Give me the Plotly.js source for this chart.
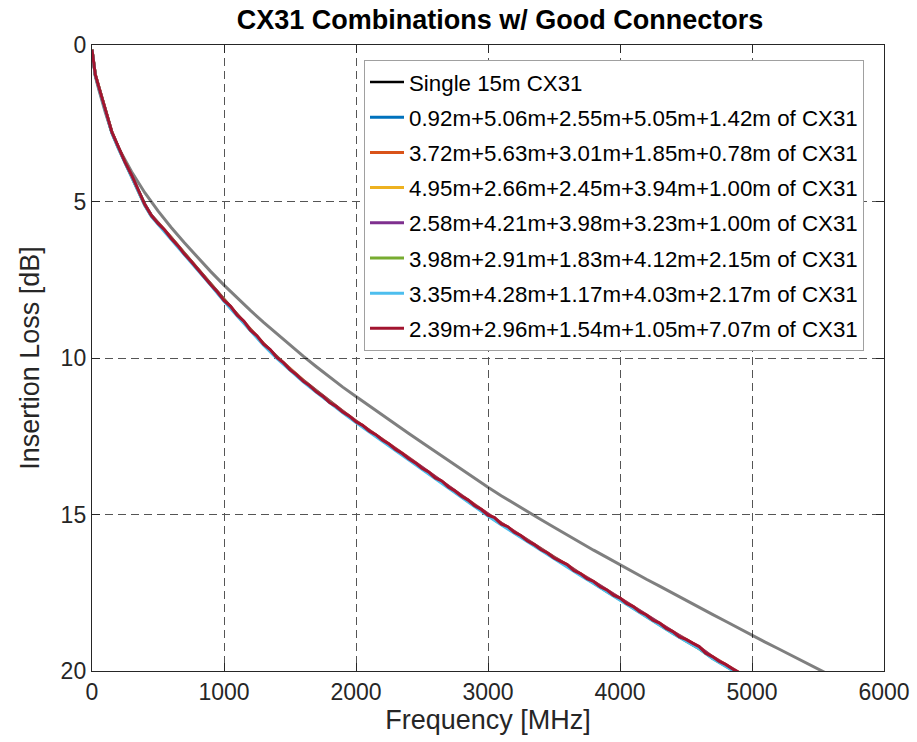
<!DOCTYPE html>
<html>
<head>
<meta charset="utf-8">
<script src="https://cdn.plot.ly/plotly-3.0.1.min.js"></script>
<style>
  html, body { margin: 0; padding: 0; background: #fff; }
  #chart { width: 917px; height: 742px; }
</style>
</head>
<body>
<div id="chart"></div>
<script>
// Insertion loss of a single 15 m CX31 cable vs. five-piece connectorised combinations.

// Frequency grid (MHz) for the single reference cable
const freqSingle = [0, 10, 25, 50, 100, 150, 200, 300, 400, 500, 600, 700, 800, 900,
  1000, 1100, 1200, 1300, 1400, 1500, 1600, 1700, 1800, 1900,
  2000, 2100, 2200, 2300, 2400, 2500, 2600, 2700, 2800, 2900,
  3000, 3100, 3200, 3300, 3400, 3500, 3600, 3700, 3800, 3900,
  4000, 4100, 4200, 4300, 4400, 4500, 4600, 4700, 4800, 4900,
  5000, 5100, 5200, 5300, 5400, 5500, 5600];

// Insertion loss (dB) of the single 15 m CX31
const lossSingle = [0.15, 0.58, 1.00, 1.40, 2.14, 2.79, 3.28, 4.05, 4.72, 5.30, 5.83, 6.32, 6.79, 7.24,
  7.67, 8.08, 8.48, 8.86, 9.23, 9.59, 9.94, 10.28, 10.61, 10.93,
  11.23, 11.53, 11.83, 12.12, 12.41, 12.70, 12.99, 13.28, 13.56, 13.85,
  14.13, 14.40, 14.66, 14.91, 15.16, 15.41, 15.66, 15.90, 16.14, 16.37,
  16.61, 16.84, 17.07, 17.29, 17.52, 17.74, 17.97, 18.19, 18.41, 18.64,
  18.86, 19.08, 19.29, 19.51, 19.72, 19.94, 20.15];

// Frequency grid (MHz) for the combinations
const freqCombo = [0, 10, 25, 50, 100, 150, 200, 250, 300, 350, 400, 450, 500,
  600, 700, 800, 900, 1000, 1100, 1200, 1300, 1400, 1500,
  1600, 1700, 1800, 1900, 2000, 2100, 2200, 2300, 2400, 2500,
  2600, 2700, 2800, 2900, 3000, 3100, 3200, 3300, 3400, 3500,
  3600, 3700, 3800, 3900, 4000, 4100, 4200, 4300, 4400, 4500,
  4600, 4700, 4800, 4900];

const lossCombo1 = [0.15, 0.56, 0.96, 1.33, 2.06, 2.79, 3.27, 3.75, 4.17, 4.63, 5.09, 5.44, 5.69,
  6.17, 6.67, 7.16, 7.65, 8.16, 8.63, 9.11, 9.56, 9.98, 10.37,
  10.73, 11.07, 11.41, 11.72, 12.03, 12.33, 12.62, 12.92, 13.22, 13.52,
  13.83, 14.12, 14.42, 14.72, 15.02, 15.30, 15.57, 15.85, 16.12, 16.39,
  16.65, 16.92, 17.18, 17.45, 17.71, 17.98, 18.25, 18.51, 18.78, 19.03,
  19.28, 19.58, 19.83, 20.08];

const lossCombo2 = [0.15, 0.54, 0.94, 1.31, 2.04, 2.77, 3.27, 3.73, 4.15, 4.61, 5.11, 5.46, 5.67,
  6.15, 6.65, 7.14, 7.63, 8.14, 8.61, 9.09, 9.54, 9.96, 10.35,
  10.71, 11.05, 11.39, 11.70, 12.01, 12.30, 12.59, 12.89, 13.19, 13.49,
  13.80, 14.09, 14.39, 14.69, 14.99, 15.27, 15.54, 15.82, 16.09, 16.36,
  16.61, 16.89, 17.14, 17.41, 17.67, 17.94, 18.21, 18.47, 18.74, 18.99,
  19.23, 19.54, 19.79, 20.04];

const lossCombo3 = [0.16, 0.55, 0.95, 1.32, 2.05, 2.78, 3.29, 3.74, 4.16, 4.62, 5.10, 5.45, 5.68,
  6.16, 6.66, 7.15, 7.64, 8.15, 8.62, 9.10, 9.55, 9.97, 10.36,
  10.72, 11.06, 11.40, 11.71, 12.02, 12.32, 12.61, 12.91, 13.21, 13.51,
  13.82, 14.11, 14.41, 14.71, 15.01, 15.29, 15.56, 15.84, 16.11, 16.38,
  16.63, 16.91, 17.16, 17.43, 17.69, 17.96, 18.23, 18.49, 18.76, 19.01,
  19.25, 19.56, 19.81, 20.06];

const lossCombo4 = [0.15, 0.55, 0.95, 1.32, 2.05, 2.78, 3.28, 3.74, 4.16, 4.62, 5.10, 5.45, 5.68,
  6.16, 6.66, 7.15, 7.64, 8.15, 8.62, 9.10, 9.55, 9.97, 10.36,
  10.72, 11.06, 11.40, 11.71, 12.02, 12.31, 12.60, 12.90, 13.20, 13.50,
  13.81, 14.10, 14.40, 14.70, 15.00, 15.28, 15.55, 15.83, 16.10, 16.37,
  16.62, 16.90, 17.15, 17.42, 17.68, 17.95, 18.22, 18.48, 18.75, 19.00,
  19.24, 19.55, 19.80, 20.05];

const lossCombo5 = [0.15, 0.56, 0.96, 1.33, 2.06, 2.79, 3.29, 3.75, 4.17, 4.63, 5.11, 5.46, 5.69,
  6.17, 6.67, 7.16, 7.65, 8.16, 8.63, 9.11, 9.56, 9.98, 10.37,
  10.73, 11.07, 11.42, 11.73, 12.04, 12.33, 12.63, 12.93, 13.23, 13.53,
  13.84, 14.13, 14.43, 14.73, 15.03, 15.31, 15.58, 15.86, 16.13, 16.40,
  16.66, 16.93, 17.19, 17.46, 17.72, 17.99, 18.26, 18.52, 18.79, 19.04,
  19.29, 19.59, 19.84, 20.09];

const lossCombo6 = [0.16, 0.57, 0.97, 1.35, 2.08, 2.81, 3.31, 3.77, 4.19, 4.65, 5.13, 5.48, 5.72,
  6.20, 6.70, 7.19, 7.68, 8.19, 8.66, 9.14, 9.59, 10.01, 10.40,
  10.76, 11.10, 11.44, 11.75, 12.06, 12.36, 12.65, 12.95, 13.25, 13.55,
  13.86, 14.15, 14.45, 14.75, 15.05, 15.33, 15.60, 15.88, 16.15, 16.42,
  16.67, 16.95, 17.20, 17.47, 17.73, 18.00, 18.27, 18.53, 18.80, 19.05,
  19.29, 19.60, 19.85, 20.10];

// The last combination is measured on a finer grid
const freqCombo7 = [0, 10, 25, 50, 75, 100, 150, 200, 250, 300, 350, 400, 450, 500,
  550, 600, 650, 700, 750, 800, 850, 900, 950, 1000,
  1050, 1100, 1150, 1200, 1250, 1300, 1350, 1400, 1450, 1500,
  1550, 1600, 1650, 1700, 1750, 1800, 1850, 1900, 1950, 2000,
  2050, 2100, 2150, 2200, 2250, 2300, 2350, 2400, 2450, 2500,
  2550, 2600, 2650, 2700, 2750, 2800, 2850, 2900, 2950, 3000,
  3050, 3100, 3150, 3200, 3250, 3300, 3350, 3400, 3450, 3500,
  3550, 3600, 3650, 3700, 3750, 3800, 3850, 3900, 3950, 4000,
  4050, 4100, 4150, 4200, 4250, 4300, 4350, 4400, 4450, 4500,
  4550, 4600, 4650, 4700, 4750, 4800, 4850, 4900];

const lossCombo7 = [0.15, 0.55, 0.95, 1.32, 1.72, 2.05, 2.78, 3.28, 3.74, 4.16, 4.62, 5.10, 5.45, 5.70,
  5.91, 6.18, 6.41, 6.68, 6.91, 7.17, 7.40, 7.66, 7.89, 8.16,
  8.35, 8.63, 8.82, 9.11, 9.29, 9.56, 9.73, 9.98, 10.15, 10.37,
  10.54, 10.74, 10.89, 11.08, 11.23, 11.42, 11.55, 11.73, 11.86, 12.04,
  12.15, 12.33, 12.45, 12.62, 12.75, 12.92, 13.05, 13.22, 13.35, 13.52,
  13.64, 13.83, 13.93, 14.12, 14.25, 14.42, 14.54, 14.72, 14.84, 15.02,
  15.10, 15.30, 15.39, 15.57, 15.68, 15.85, 15.96, 16.12, 16.23, 16.39,
  16.50, 16.60, 16.79, 16.89, 17.05, 17.14, 17.31, 17.41, 17.58, 17.67,
  17.84, 17.94, 18.11, 18.21, 18.38, 18.47, 18.64, 18.74, 18.91, 18.99,
  19.11, 19.22, 19.43, 19.54, 19.69, 19.79, 19.93, 20.05];

const comboNames = [
  '0.92m+5.06m+2.55m+5.05m+1.42m of CX31',
  '3.72m+5.63m+3.01m+1.85m+0.78m of CX31',
  '4.95m+2.66m+2.45m+3.94m+1.00m of CX31',
  '2.58m+4.21m+3.98m+3.23m+1.00m of CX31',
  '3.98m+2.91m+1.83m+4.12m+2.15m of CX31',
  '3.35m+4.28m+1.17m+4.03m+2.17m of CX31',
  '2.39m+2.96m+1.54m+1.05m+7.07m of CX31'
];
const singleName = 'Single 15m CX31';

const comboColors = ['#0072BD', '#D95319', '#EDB120', '#7E2F8E', '#77AC30', '#4DBEEE', '#A2142F'];
const comboFreqs = [freqCombo, freqCombo, freqCombo, freqCombo, freqCombo, freqCombo, freqCombo7];
const comboLosses = [lossCombo1, lossCombo2, lossCombo3, lossCombo4, lossCombo5, lossCombo6, lossCombo7];

const FONT = 'Liberation Sans, Arial, Helvetica, sans-serif';
const INK = '#262626';

const traces = [];

// Reference cable: drawn half-transparent black, listed in the legend as solid black
traces.push({
  x: freqSingle, y: lossSingle, type: 'scatter', mode: 'lines',
  name: singleName, showlegend: false, legendgroup: 'g0',
  line: { color: 'rgba(0,0,0,0.5)', width: 3 },
  hoverinfo: 'skip'
});
traces.push({
  x: [null], y: [null], type: 'scatter', mode: 'lines',
  name: singleName, legendgroup: 'g0', showlegend: true,
  line: { color: '#000000', width: 2.6 }
});

comboLosses.forEach(function (vals, i) {
  traces.push({
    x: comboFreqs[i], y: vals, type: 'scatter', mode: 'lines',
    name: comboNames[i], legendgroup: 'g' + (i + 1),
    line: { color: comboColors[i], width: 3 }
  });
});

const gridDash = '8px,5px';

const layout = {
  width: 917, height: 742,
  margin: { l: 92, r: 33, t: 45, b: 71, pad: 0 },
  paper_bgcolor: '#ffffff', plot_bgcolor: '#ffffff',
  font: { family: FONT, color: INK, size: 22 },
  showlegend: true,
  title: {
    text: 'CX31 Combinations w/ Good Connectors',
    font: { family: FONT, size: 27, color: '#000000', weight: 'bold' },
    xref: 'paper', x: (500 - 92) / 792, xanchor: 'center',
    yref: 'container', y: 1 - 20 / 742, yanchor: 'middle'
  },
  xaxis: {
    range: [0, 6000], tickvals: [0, 1000, 2000, 3000, 4000, 5000, 6000],
    ticktext: ['0', '1000', '2000', '3000', '4000', '5000', '6000'],
    ticks: 'inside', ticklen: 8, tickcolor: INK, tickwidth: 1,
    showline: true, linecolor: INK, linewidth: 1.2, mirror: 'ticks',
    showgrid: true, gridcolor: '#555555', gridwidth: 1, griddash: gridDash,
    zeroline: false, automargin: false,
    tickfont: { family: FONT, size: 23, color: INK },
    title: { text: 'Frequency [MHz]', font: { family: FONT, size: 27, color: INK }, standoff: 4 }
  },
  yaxis: {
    range: [20, 0], tickvals: [0, 5, 10, 15, 20],
    ticktext: ['0', '5', '10', '15', '20'],
    ticks: 'inside', ticklen: 8, tickcolor: INK, tickwidth: 1,
    showline: true, linecolor: INK, linewidth: 1.2, mirror: 'ticks',
    showgrid: true, gridcolor: '#555555', gridwidth: 1, griddash: gridDash,
    zeroline: false, automargin: false,
    tickfont: { family: FONT, size: 23, color: INK },
    title: { text: 'Insertion Loss [dB]', font: { family: FONT, size: 27, color: INK }, standoff: 13 }
  },
  legend: {
    x: (364 - 92) / 792, xanchor: 'left', xref: 'paper',
    y: (671 - 60) / 626, yanchor: 'top', yref: 'paper',
    bgcolor: '#ffffff', bordercolor: '#a0a0a0', borderwidth: 1,
    font: { family: FONT, size: 22.3, color: '#000000' },
    traceorder: 'grouped', tracegroupgap: 3.2,
    itemwidth: 34
  }
};

Plotly.newPlot('chart', traces, layout, { staticPlot: true, displayModeBar: false });
</script>
</body>
</html>
